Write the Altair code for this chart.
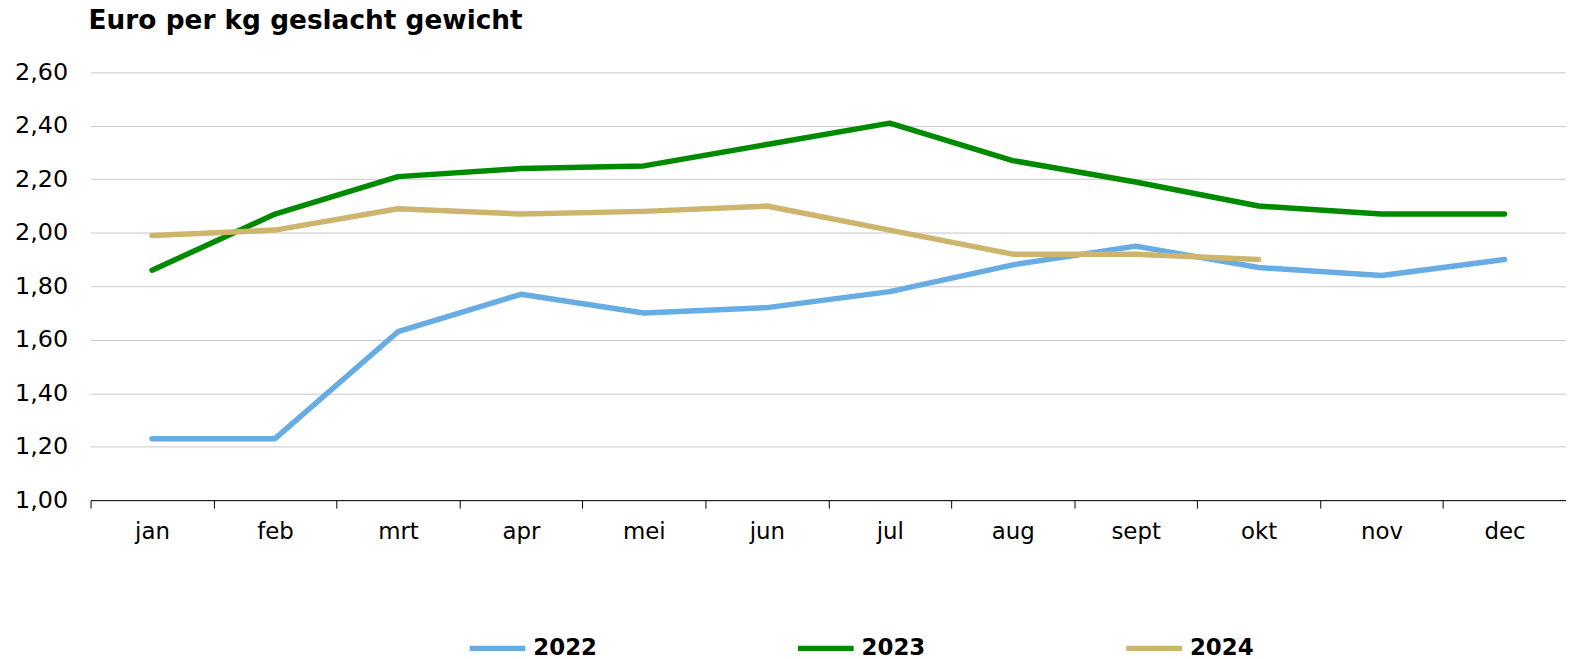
import altair as alt
import pandas as pd

title_text = ["Euro per kg geslacht gewicht"]
months = ["jan", "feb", "mrt", "apr", "mei", "jun", "jul", "aug", "sept", "okt", "nov", "dec"]
years = ["2022", "2023", "2024"]
v2022 = [1.23, 1.23, 1.63, 1.77, 1.70, 1.72, 1.78, 1.88, 1.95, 1.87, 1.84, 1.90]
v2023 = [1.86, 2.07, 2.21, 2.24, 2.25, 2.33, 2.41, 2.27, 2.19, 2.10, 2.07, 2.07]
v2024 = [1.99, 2.01, 2.09, 2.07, 2.08, 2.10, 2.01, 1.92, 1.92, 1.90]
colors = ["#68ace4", "#008a00", "#cdb56e"]
y_ticks = [1.0, 1.2, 1.4, 1.6, 1.8, 2.0, 2.2, 2.4, 2.6]

rows = []
for yr, vals in zip(years, [v2022, v2023, v2024]):
    for i, v in enumerate(vals):
        rows.append({"year": yr, "month": months[i], "pos": i + 0.5, "value": v})
df = pd.DataFrame(rows)

W, H = 1483, 430
font = "DejaVu Sans"
label_arr = "[" + ",".join("'%s'" % m for m in months) + ",'']"

lines = alt.Chart(df).mark_line(strokeWidth=5.5, strokeCap="round", strokeJoin="round").encode(
    x=alt.X("pos:Q", scale=alt.Scale(domain=[0, 12], nice=False, zero=False),
            axis=alt.Axis(values=list(range(13)), labelExpr=label_arr + "[datum.value]",
                          labelOffset=W / 24, labelFlush=False, labelOverlap=False,
                          grid=False, tickSize=8, tickColor="black", domainColor="black",
                          labelFont=font, labelFontSize=23, labelColor="black",
                          labelPadding=13, title=None)),
    y=alt.Y("value:Q", scale=alt.Scale(domain=[1.0, 2.6], nice=False, zero=False),
            axis=alt.Axis(values=y_ticks, labelExpr="replace(format(datum.value, '.2f'), '.', ',')",
                          grid=True, gridColor="#c8c8c8", gridWidth=1, domain=False, ticks=False,
                          labelFont=font, labelFontSize=24, labelColor="black",
                          labelPadding=23, title=None)),
    color=alt.Color("year:N", scale=alt.Scale(domain=years, range=colors),
                    legend=alt.Legend(title=None, orient="none", direction="horizontal",
                                      legendX=378, legendY=548, padding=0,
                                      symbolType="stroke", symbolSize=3136, symbolStrokeWidth=5.5,
                                      labelFont=font, labelFontSize=23, labelFontWeight="bold",
                                      labelColor="black", labelOffset=5, columnPadding=190)),
    order=alt.Order("pos:Q"),
)

title = alt.Chart(pd.DataFrame({"t": title_text})).mark_text(
    align="left", baseline="alphabetic", font=font, fontSize=26.5, fontWeight="bold", color="black"
).encode(x=alt.value(-2), y=alt.value(-44), text="t:N")

chart = alt.layer(lines, title).properties(
    width=W, height=H,
    padding={"left": 83, "top": 63, "right": 0, "bottom": 158},
    autosize=alt.AutoSizeParams(type="none"),
).configure_view(stroke=None)

chart.save("out.html", embed_options={"renderer": "svg", "actions": False})
